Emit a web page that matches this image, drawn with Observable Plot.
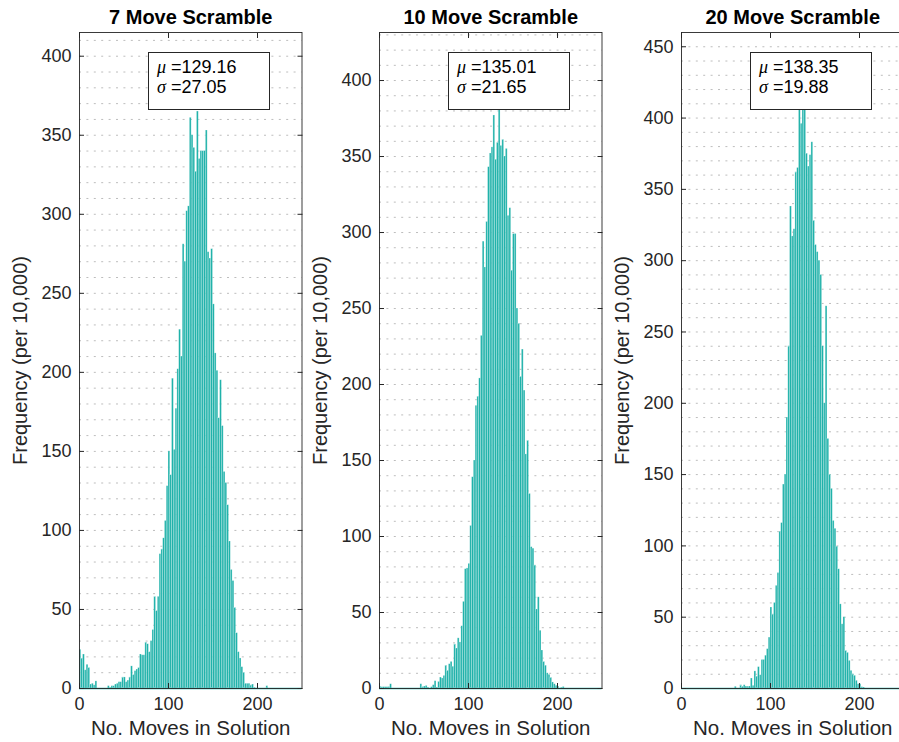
<!DOCTYPE html>
<html><head><meta charset="utf-8">
<script src="https://cdn.jsdelivr.net/npm/d3@7"></script>
<script src="https://cdn.jsdelivr.net/npm/@observablehq/plot@0.6"></script>
<style>
body{margin:0;background:#fff;}
#wrap{position:relative;width:899px;height:742px;overflow:hidden;font-family:"Liberation Sans",Arial,sans-serif;}
.panel{position:absolute;top:0;width:305px;height:742px;}
.panel svg{max-width:none;}
.stats{position:absolute;box-sizing:border-box;border:1px solid #262626;background:#fff;font-size:18px;line-height:20px;color:#000;padding:4px 0 0 8px;white-space:pre;}
.stats i{font-family:"Liberation Serif","DejaVu Serif",serif;font-style:italic;}
</style></head><body><div id="wrap"></div><script>
// Bin width (moves) and bar counts (per 10,000), bins start at 0
const binWidth = 2;
const titles = ["7 Move Scramble", "10 Move Scramble", "20 Move Scramble"];
const means = ["129.16", "135.01", "138.35"];
const sds = ["27.05", "21.65", "19.88"];
const counts7 = [24.5,19,21.5,11.5,15,13,2.5,3,2,4.5, 0,0,0,0,0,0,1.5,0.5,1.5,1.5,
  2.5,3,4,4,7,7,4,5,7,14, 8.5,11,12,13,21.5,21,21,29,28,23,
  30,37,58,49,58,85,88,95,106,128, 150,135,196,151,177,202,227,210,281,270,
  302,305,361,350,342,327,365,335,340,340, 340,353,276,272,278,243,212,201,171,195,
  166,137,130,116,93,75,68,51,35,23, 19,13.5,10,3,3,3,2,2.5,0.5,0,
  0,0,0,0,0,1.5];
const counts10 = [1.3,0.9,0.9,0.9,0.9,1,2.8,0,0,0, 0,0,0,0,0,0,0,0,0,0,
  0,0,0,2.8,1,1.3,1.7,0.6,0,0.9, 2.2,4.8,0.6,4.4,7.2,6.6,8.3,15,11.6,16,
  17.5,14.3,29,26.3,33,30.3,41,57,78.5,79, 82,107,139,150,186,192,204,232,294,277,
  307,343,352,356,377,348,359,381,357,361, 350,355,311,316,275,299,299,250,240,205,
  223,196,154,163,128,93,92,81,52,60, 38,25,17.5,15,10,9,7,4,2.8,1.8,
  1.3,0,0.5,1];
const counts20 = [0,0,0,0,0,0,0,0,0,0, 0,0,0,0,0,0,0,0,0,0,
  0,0,0,0,0,0,0,0,0,0, 1.2,0,0,2.3,1.2,2.3,1.4,1.4,1.4,7,
  1.9,12,8.4,15,9.3,20,20,23,27.6,35.7, 56.8,52,60,72,81,110,116,143,150,190,
  240,338,317,322,362,365,406,396,409,410, 375,366,374,383,328,311,306,300,290,240,
  200,268,175,150,140,117.5,112,99.5,83.6,59, 45,50,26.4,25,19.4,12.4,10,8.9,5.4,3,
  3,1,0.7];
const series = [counts7, counts10, counts20];
const yMaxes = [415, 431.6, 460];
const yTickSets = [[0,50,100,150,200,250,300,350,400],[0,50,100,150,200,250,300,350,400],[0,50,100,150,200,250,300,350,400,450]];
const xTicks = [0, 100, 200];
const xDomain = [0, 250];
const gridStep = 10;
const panelLefts = [0, 300, 602];
const xLabel = "No. Moves in Solution";
const yLabel = "Frequency (per 10,000)";

const teal = "#20b2aa";
const ink = "#262626";
const wrap = document.getElementById("wrap");

series.forEach((counts, p) => {
  const bars = counts.map((v, i) => ({x1: i * binWidth, x2: (i + 1) * binWidth, y: v})).filter(d => d.y > 0);
  const grid = d3.range(0, yMaxes[p], gridStep);
  const yTicks = yTickSets[p];
  const chart = Plot.plot({
    width: 305, height: 742,
    marginLeft: 79, marginRight: 3.5, marginTop: 32, marginBottom: 54,
    x: {domain: xDomain},
    y: {domain: [0, yMaxes[p]]},
    style: {fontFamily: '"Liberation Sans", Arial, sans-serif', fontSize: "18px", color: ink, background: "transparent", overflow: "visible"},
    marks: [
      Plot.gridY(grid, {stroke: "#bdbdbd", strokeOpacity: 1, strokeWidth: 1, strokeDasharray: "2,5.4"}),
      Plot.rectY(bars, {x1: "x1", x2: "x2", y1: 0, y2: "y", fill: teal, stroke: "#ffffff", strokeOpacity: 0.4, strokeWidth: 0.6}),
      Plot.ruleY([0], {stroke: teal, strokeWidth: 1.5}),
      Plot.frame({stroke: ink, strokeWidth: 0.9}),
      Plot.axisY(yTicks, {anchor: "left", tickSize: 0, tickPadding: 8, label: null, fontSize: 18}),
      Plot.axisY(yTicks, {anchor: "left", tickSize: 5, insetLeft: 5, tickFormat: () => "", label: null, stroke: ink}),
      Plot.axisY(yTicks, {anchor: "right", tickSize: 5, insetRight: 5, tickFormat: () => "", label: null, stroke: ink}),
      Plot.axisX(xTicks, {anchor: "bottom", tickSize: 0, tickPadding: 9, label: null, fontSize: 18}),
      Plot.axisX(xTicks, {anchor: "bottom", tickSize: 5, insetBottom: 5, tickFormat: () => "", label: null, stroke: ink}),
      Plot.axisX(xTicks, {anchor: "top", tickSize: 5, insetTop: 5, tickFormat: () => "", label: null, stroke: ink}),
      Plot.text([titles[p]], {frameAnchor: "top", lineAnchor: "middle", dy: -15, fontWeight: "bold", fontSize: 20, fill: "#000"}),
      Plot.text([xLabel], {frameAnchor: "bottom", lineAnchor: "middle", dy: 40, fontSize: 20.5, fill: ink}),
      Plot.text([yLabel], {frameAnchor: "left", textAnchor: "middle", lineAnchor: "middle", dx: -59, rotate: -90, fontSize: 20, fill: ink})
    ]
  });
  const panel = document.createElement("div");
  panel.className = "panel";
  panel.style.left = panelLefts[p] + "px";
  panel.appendChild(chart);
  const box = document.createElement("div");
  box.className = "stats";
  box.style.left = "148px"; box.style.top = "52px"; box.style.width = "122px"; box.style.height = "58px";
  box.innerHTML = `<i>μ</i> =${means[p]}\n<i>σ</i> =${sds[p]}`;
  panel.appendChild(box);
  wrap.appendChild(panel);
});
</script></body></html>
